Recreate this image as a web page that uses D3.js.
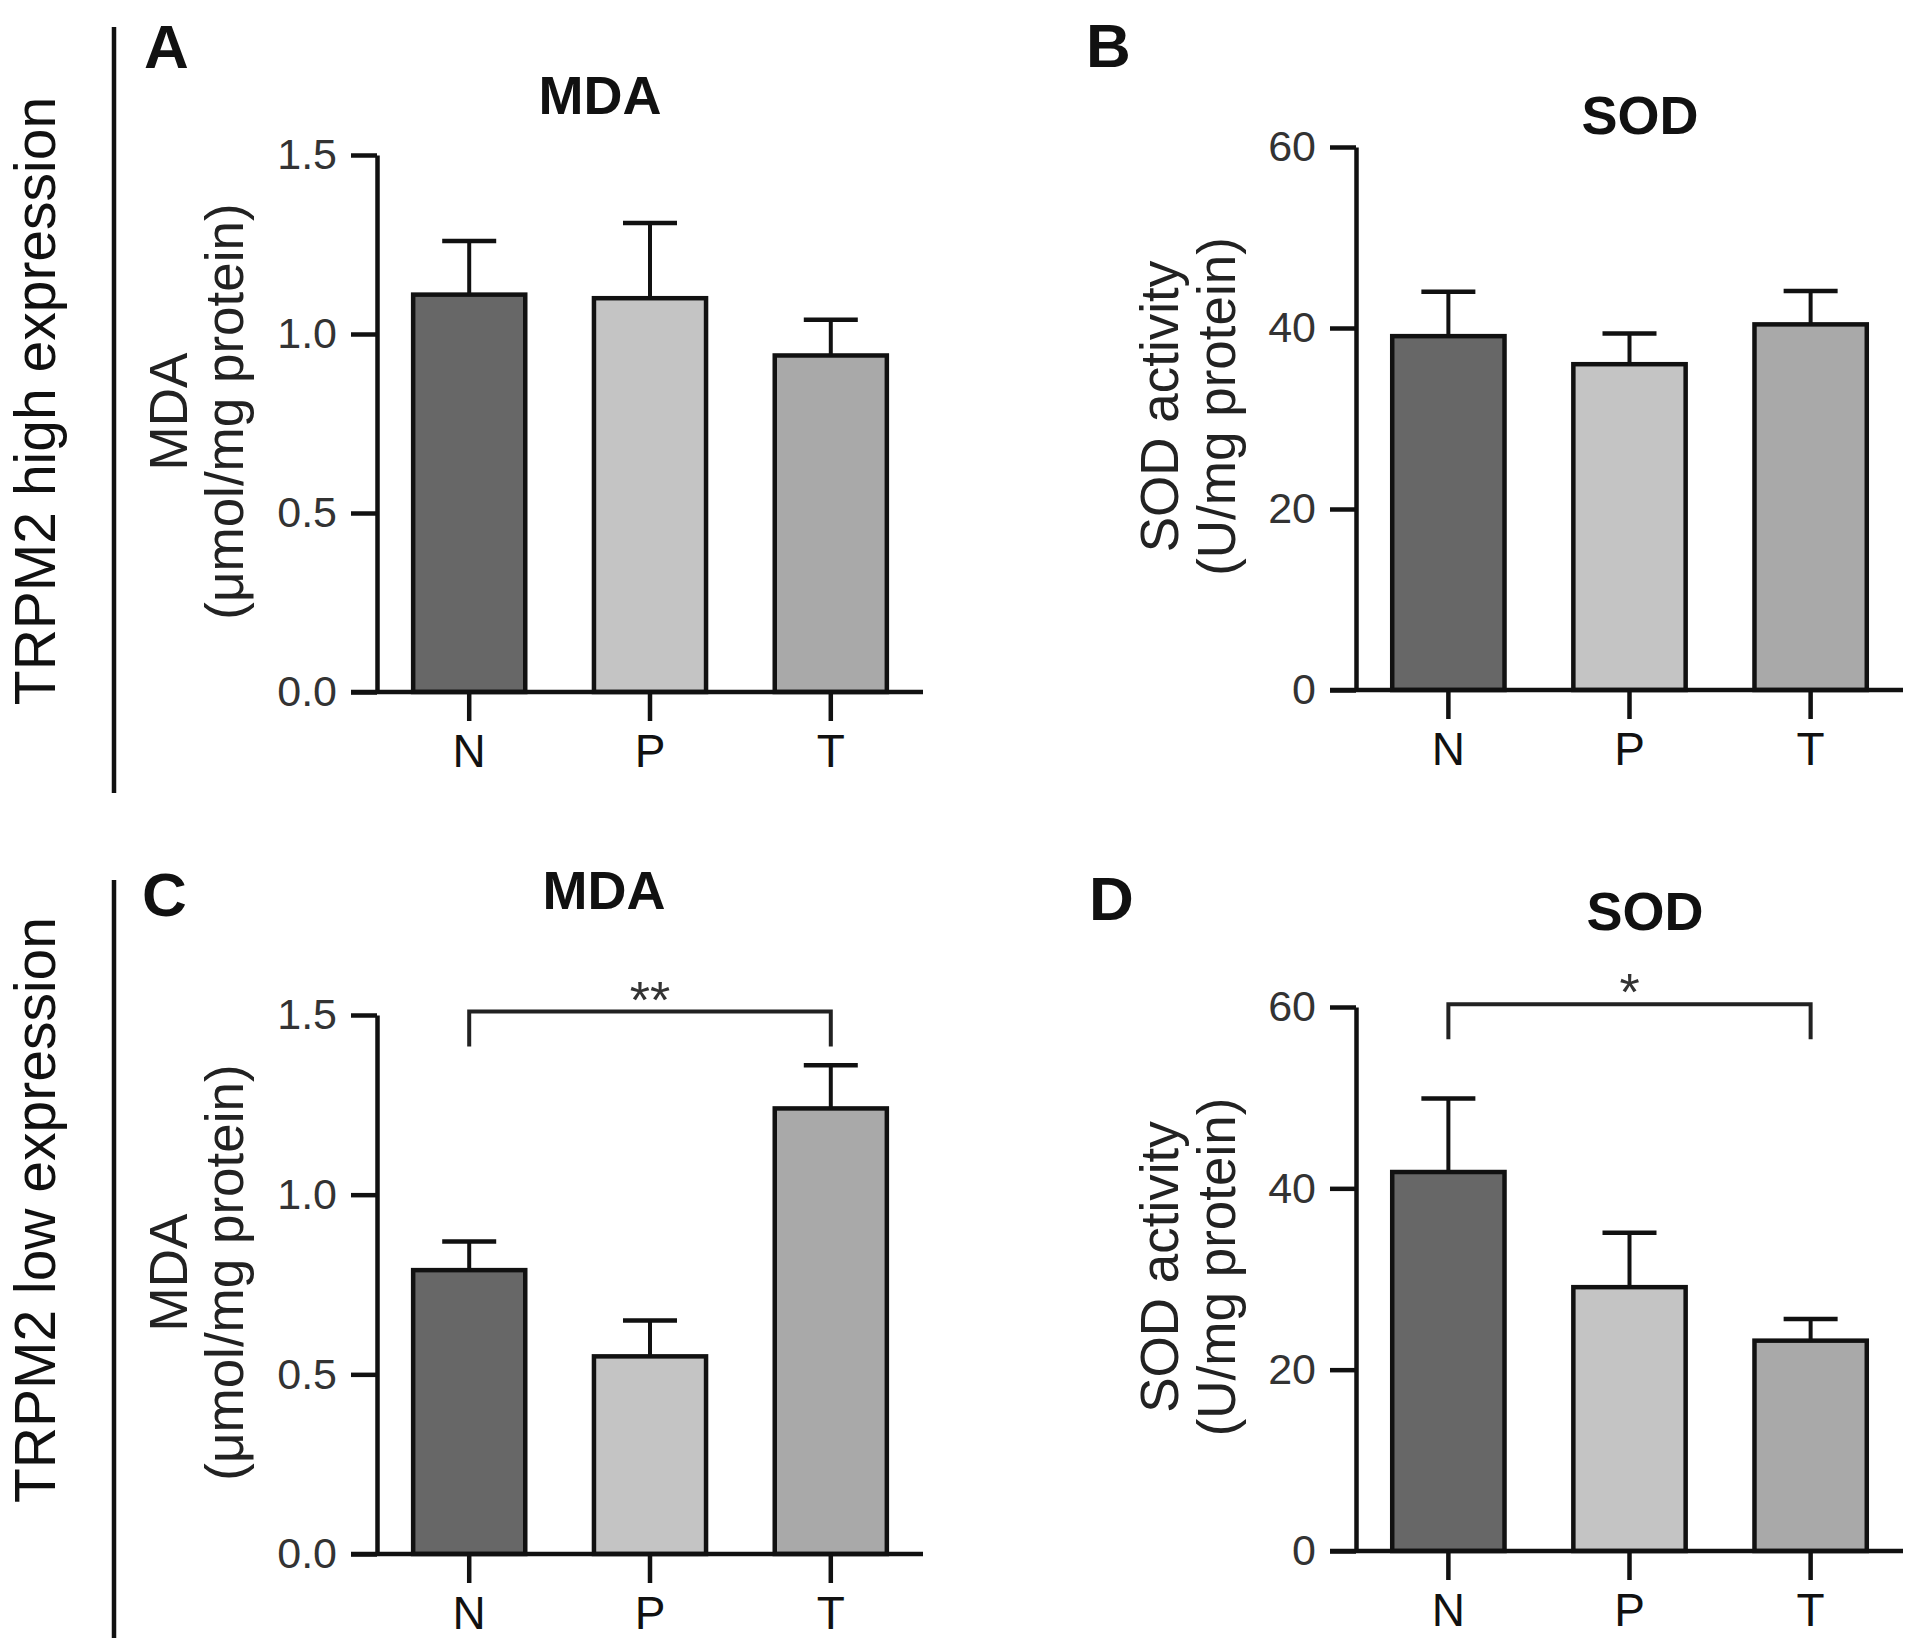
<!DOCTYPE html>
<html>
<head>
<meta charset="utf-8">
<script src="https://cdn.jsdelivr.net/npm/d3@7"></script>
<style>
  body { margin: 0; background: #fff; }
  text { font-family: "Liberation Sans", Arial, Helvetica, sans-serif; }
</style>
</head>
<body>
<script>
// Chart values
const categories = ["N", "P", "T"];

const mdaHighMean = [1.11, 1.10, 0.94];
const mdaHighSem = [0.15, 0.21, 0.10];
const sodHighMean = [39.1, 36.0, 40.4];
const sodHighSem = [4.9, 3.4, 3.7];

const mdaLowMean = [0.79, 0.55, 1.24];
const mdaLowSem = [0.08, 0.10, 0.12];
const sodLowMean = [41.8, 29.1, 23.2];
const sodLowSem = [8.1, 6.0, 2.4];

const mdaTicks = [0, 0.5, 1.0, 1.5];
const sodTicks = [0, 20, 40, 60];

// significance brackets: [from, to, level in data units, mark]
const mdaLowSig = [["N", "T", 1.51, "**"]];
const sodLowSig = [["N", "T", 60.3, "*"]];

const rowLabels = ["TRPM2 high expression", "TRPM2 low expression"];
const panelLetters = ["A", "B", "C", "D"];
const panelTitles = ["MDA", "SOD", "MDA", "SOD"];
const mdaAxisLabel = ["MDA", "(\u03bcmol/mg protein)"];
const sodAxisLabel = ["SOD activity", "(U/mg protein)"];

const barColors = ["#676767", "#c4c4c4", "#a9a9a9"];

// Layout of the four panels (pixels)
const w = 1913;
const h = 1651;
const panels = [
  { mean: mdaHighMean, sem: mdaHighSem, ticks: mdaTicks, fmt: d3.format(".1f"), label: mdaAxisLabel, sig: [],
    axisX: 377, xEnd: 923, top: 155, bottom: 692, letter: [144, 68], title: [600, 114], labelOff: [-190, -134] },
  { mean: sodHighMean, sem: sodHighSem, ticks: sodTicks, fmt: d3.format("d"), label: sodAxisLabel, sig: [],
    axisX: 1356, xEnd: 1903, top: 147, bottom: 690, letter: [1086, 67], title: [1640, 134], labelOff: [-178, -121] },
  { mean: mdaLowMean, sem: mdaLowSem, ticks: mdaTicks, fmt: d3.format(".1f"), label: mdaAxisLabel, sig: mdaLowSig,
    axisX: 377, xEnd: 923, top: 1015, bottom: 1554, letter: [142, 916], title: [604, 909], labelOff: [-190, -134] },
  { mean: sodLowMean, sem: sodLowSem, ticks: sodTicks, fmt: d3.format("d"), label: sodAxisLabel, sig: sodLowSig,
    axisX: 1356, xEnd: 1903, top: 1007, bottom: 1551, letter: [1089, 920], title: [1645, 930], labelOff: [-178, -121] }
];
const rows = [
  { lineTop: 27, lineBottom: 793, labelY: 401 },
  { lineTop: 880, lineBottom: 1638, labelY: 1210 }
];

// Setup the canvas
const svg = d3.select("body")
  .append("svg")
  .attr("width", w)
  .attr("height", h);

svg.append("rect")
  .attr("width", w)
  .attr("height", h)
  .attr("fill", "#fff");

// Row labels and separator lines
rows.forEach((r, i) => {
  svg.append("line")
    .attr("x1", 114).attr("x2", 114)
    .attr("y1", r.lineTop).attr("y2", r.lineBottom)
    .attr("stroke", "#111")
    .attr("stroke-width", 4.5);

  svg.append("text")
    .attr("transform", `translate(55, ${r.labelY}) rotate(-90)`)
    .attr("text-anchor", "middle")
    .attr("font-size", 57)
    .attr("fill", "#111")
    .text(rowLabels[i]);
});

panels.forEach((p, i) => {
  const g = svg.append("g");

  // Setup the scales
  const yScale = d3.scaleLinear()
    .domain([p.ticks[0], p.ticks[p.ticks.length - 1]])
    .range([p.bottom, p.top]);

  const xScale = d3.scaleBand()
    .domain(categories)
    .range([p.axisX, p.xEnd])
    .paddingInner(0.38)
    .paddingOuter(0.2);

  const rows3 = categories.map((c, j) => ({ cat: c, mean: p.mean[j], sem: p.sem[j], color: barColors[j] }));

  // Bars
  g.selectAll("rect.bar")
    .data(rows3)
    .enter()
    .append("rect")
    .attr("class", "bar")
    .attr("x", d => xScale(d.cat))
    .attr("y", d => yScale(d.mean))
    .attr("width", xScale.bandwidth())
    .attr("height", d => yScale(0) - yScale(d.mean))
    .attr("fill", d => d.color)
    .attr("stroke", "#111")
    .attr("stroke-width", 4.5);

  // Error bars (upper only)
  const cx = d => xScale(d.cat) + xScale.bandwidth() / 2;
  g.selectAll("line.err")
    .data(rows3)
    .enter()
    .append("line")
    .attr("class", "err")
    .attr("x1", cx).attr("x2", cx)
    .attr("y1", d => yScale(d.mean))
    .attr("y2", d => yScale(d.mean + d.sem))
    .attr("stroke", "#111")
    .attr("stroke-width", 4);

  g.selectAll("line.cap")
    .data(rows3)
    .enter()
    .append("line")
    .attr("class", "cap")
    .attr("x1", d => cx(d) - 27).attr("x2", d => cx(d) + 27)
    .attr("y1", d => yScale(d.mean + d.sem))
    .attr("y2", d => yScale(d.mean + d.sem))
    .attr("stroke", "#111")
    .attr("stroke-width", 4.5);

  // Setup the axes
  const yAxis = g.append("g")
    .attr("transform", `translate(${p.axisX}, 0)`)
    .call(d3.axisLeft(yScale)
      .tickValues(p.ticks)
      .tickFormat(p.fmt)
      .tickSize(26)
      .tickSizeOuter(0)
      .tickPadding(14));
  yAxis.selectAll("path, line").attr("stroke", "#111").attr("stroke-width", 4.5);
  yAxis.selectAll("text")
    .attr("font-size", 43)
    .attr("fill", "#333");

  const xAxis = g.append("g")
    .attr("transform", `translate(0, ${yScale(0)})`)
    .call(d3.axisBottom(xScale)
      .tickSize(29)
      .tickSizeOuter(0)
      .tickPadding(13));
  xAxis.select(".domain").remove();
  xAxis.selectAll("line").attr("stroke", "#111").attr("stroke-width", 4.5);
  xAxis.selectAll("text")
    .attr("font-size", 46)
    .attr("fill", "#111");
  xAxis.append("line")
    .attr("x1", p.axisX - 26).attr("x2", p.xEnd)
    .attr("y1", 0).attr("y2", 0)
    .attr("stroke", "#111")
    .attr("stroke-width", 4.5);

  // Y axis title (two lines, rotated)
  p.label.forEach((t, k) => {
    g.append("text")
      .attr("transform", `translate(${p.axisX + p.labelOff[k]}, ${(p.top + p.bottom) / 2 - 12}) rotate(-90)`)
      .attr("text-anchor", "middle")
      .attr("font-size", 53)
      .attr("fill", "#222")
      .text(t);
  });

  // Panel letter and title
  g.append("text")
    .attr("x", p.letter[0])
    .attr("y", p.letter[1])
    .attr("font-size", 62)
    .attr("font-weight", "bold")
    .attr("fill", "#111")
    .text(panelLetters[i]);

  g.append("text")
    .attr("x", p.title[0])
    .attr("y", p.title[1])
    .attr("text-anchor", "middle")
    .attr("font-size", 54)
    .attr("font-weight", "bold")
    .attr("fill", "#111")
    .text(panelTitles[i]);

  // Significance brackets
  p.sig.forEach(s => {
    const xa = xScale(s[0]) + xScale.bandwidth() / 2;
    const xb = xScale(s[1]) + xScale.bandwidth() / 2;
    const yl = yScale(s[2]);
    g.append("path")
      .attr("d", `M${xa},${yl + 35}V${yl}H${xb}V${yl + 35}`)
      .attr("fill", "none")
      .attr("stroke", "#222")
      .attr("stroke-width", 4);
    g.append("text")
      .attr("x", (xa + xb) / 2)
      .attr("y", yl - 24 + 0.58 * 52)
      .attr("text-anchor", "middle")
      .attr("font-size", 52)
      .attr("fill", "#333")
      .text(s[3]);
  });
});
</script>
</body>
</html>
